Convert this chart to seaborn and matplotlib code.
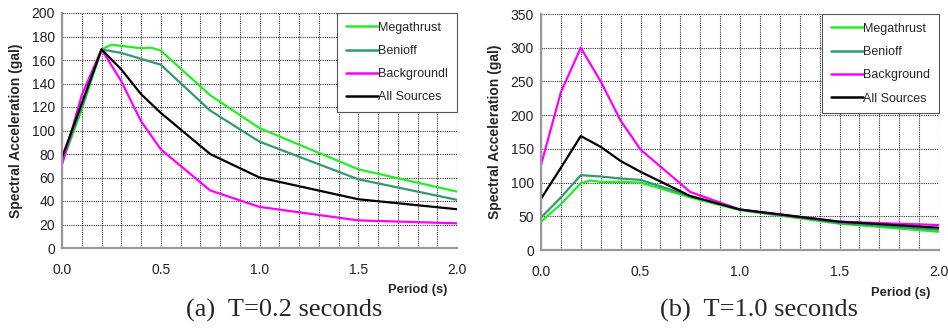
import matplotlib
matplotlib.use("Agg")
import matplotlib.pyplot as plt
import seaborn as sns
import pandas as pd
import numpy as np

sns.set_theme(style="white")
plt.rcParams['font.family'] = ['Liberation Sans', 'DejaVu Sans']

# Panel (a) T=0.2 s
a_mega_x = [0.0, 0.1, 0.2, 0.25, 0.3, 0.4, 0.45, 0.5, 0.75, 1.0, 1.5, 2.0]
a_mega_y = [72, 118, 169, 173, 172, 170, 170.5, 168, 130, 102, 67, 48]
a_ben_x = [0.0, 0.1, 0.2, 0.3, 0.4, 0.5, 0.75, 1.0, 1.5, 2.0]
a_ben_y = [74, 120, 169, 166, 161, 156, 117, 90.5, 58.5, 41]
a_bg_x = [0.0, 0.1, 0.2, 0.3, 0.4, 0.5, 0.75, 1.0, 1.5, 2.0]
a_bg_y = [71, 130, 169, 142, 108, 84, 49, 35, 23.5, 21]
a_all_x = [0.0, 0.1, 0.2, 0.3, 0.4, 0.5, 0.75, 1.0, 1.5, 2.0]
a_all_y = [77, 123, 169, 152, 131, 115, 80, 60, 41.5, 33]

# Panel (b) T=1.0 s
b_mega_x = [0.0, 0.1, 0.2, 0.25, 0.3, 0.4, 0.5, 0.75, 1.0, 1.5, 2.0]
b_mega_y = [42, 68, 99, 103, 101, 101, 100, 78, 59, 39, 27]
b_ben_x = [0.0, 0.1, 0.2, 0.3, 0.4, 0.5, 0.75, 1.0, 1.5, 2.0]
b_ben_y = [48, 78, 111, 109, 106, 104, 80, 60, 40, 30]
b_bg_x = [0.0, 0.1, 0.2, 0.3, 0.4, 0.5, 0.75, 1.0, 1.5, 2.0]
b_bg_y = [126, 234, 300, 250, 192, 149, 86, 60, 42, 37]
b_all_x = [0.0, 0.1, 0.2, 0.3, 0.4, 0.5, 0.75, 1.0, 1.5, 2.0]
b_all_y = [76, 122, 169, 153, 132, 116, 80, 60, 42, 33]

labels_a = ["Megathrust", "Benioff", "Backgroundl", "All Sources"]
labels_b = ["Megathrust", "Benioff", "Background", "All Sources"]
colors = ["#22ee22", "#339970", "#ff00ff", "#000000"]

def make_df(xs, ys, labels):
    frames = []
    for x, y, lab in zip(xs, ys, labels):
        frames.append(pd.DataFrame({"Period": x, "SA": y, "Source": lab}))
    return pd.concat(frames, ignore_index=True)

df_a = make_df([a_mega_x, a_ben_x, a_bg_x, a_all_x], [a_mega_y, a_ben_y, a_bg_y, a_all_y], labels_a)
df_b = make_df([b_mega_x, b_ben_x, b_bg_x, b_all_x], [b_mega_y, b_ben_y, b_bg_y, b_all_y], labels_b)

fig = plt.figure(figsize=(9.48, 3.3), dpi=100)
ax1 = fig.add_axes([62/948, 82/330, 395/948, 235/330])
ax2 = fig.add_axes([541/948, 80/330, 398/948, 236/330])

def style(ax, df, labels, ymax, ystep, caption, cap_x, per_x, per_y):
    ax.set_axisbelow(True)
    sns.lineplot(data=df, x="Period", y="SA", hue="Source", hue_order=labels,
                 palette=dict(zip(labels, colors)), sort=False, estimator=None,
                 linewidth=1.6, ax=ax)
    ax.set_xlim(0, 2.0)
    ax.set_ylim(0, ymax)
    ax.set_xticks([0, 0.5, 1.0, 1.5, 2.0])
    ax.set_xticklabels(["0.0", "0.5", "1.0", "1.5", "2.0"])
    ax.set_xticks(np.arange(0, 2.01, 0.1), minor=True)
    ax.set_yticks(np.arange(0, ymax + 1, ystep))
    ax.grid(True, which="both", axis="x", color="#333333", linestyle=(0, (1, 1)), linewidth=0.8)
    ax.grid(True, which="major", axis="y", color="#333333", linestyle=(0, (1, 1)), linewidth=0.8)
    for s in ["top", "right"]:
        ax.spines[s].set_visible(False)
    ax.spines["left"].set_color("#999999")
    ax.spines["bottom"].set_color("#999999")
    ax.spines["left"].set_linewidth(1.6)
    ax.spines["bottom"].set_linewidth(1.6)
    ax.tick_params(axis="y", which="major", length=3, color="#999999", labelsize=10, labelcolor="#222222", pad=2)
    ax.tick_params(axis="x", which="major", length=3, color="#999999", labelsize=10, labelcolor="#222222", pad=8)
    ax.tick_params(axis="x", which="minor", length=0)
    ax.set_xlabel("")
    ax.set_ylabel("Spectral Acceleration (gal)", fontsize=10, fontweight="bold", labelpad=6)
    fig.text(per_x, per_y, "Period (s)", ha="right", va="center",
             fontsize=9.3, fontweight="bold")
    leg = ax.legend(loc="upper right", fontsize=9, frameon=True, fancybox=False,
                    edgecolor="#555555", framealpha=1, handlelength=2.6,
                    handletextpad=0.0, labelspacing=0.9, borderpad=0.7,
                    borderaxespad=0.0)
    leg.get_frame().set_linewidth(0.8)
    for h in leg.get_lines():
        h.set_linewidth(1.8)
    fig.text(cap_x, 1 - 310/330, caption, ha="center", va="center", fontsize=19,
             family=["Liberation Serif", "DejaVu Serif"])

style(ax1, df_a, labels_a, 200, 20, "(a)  T=0.2 seconds", 284/948, 447/948, 1 - 290/330)
style(ax2, df_b, labels_b, 350, 50, "(b)  T=1.0 seconds", 759/948, 930/948, 1 - 293/330)

fig.savefig("out.png", dpi=100)
